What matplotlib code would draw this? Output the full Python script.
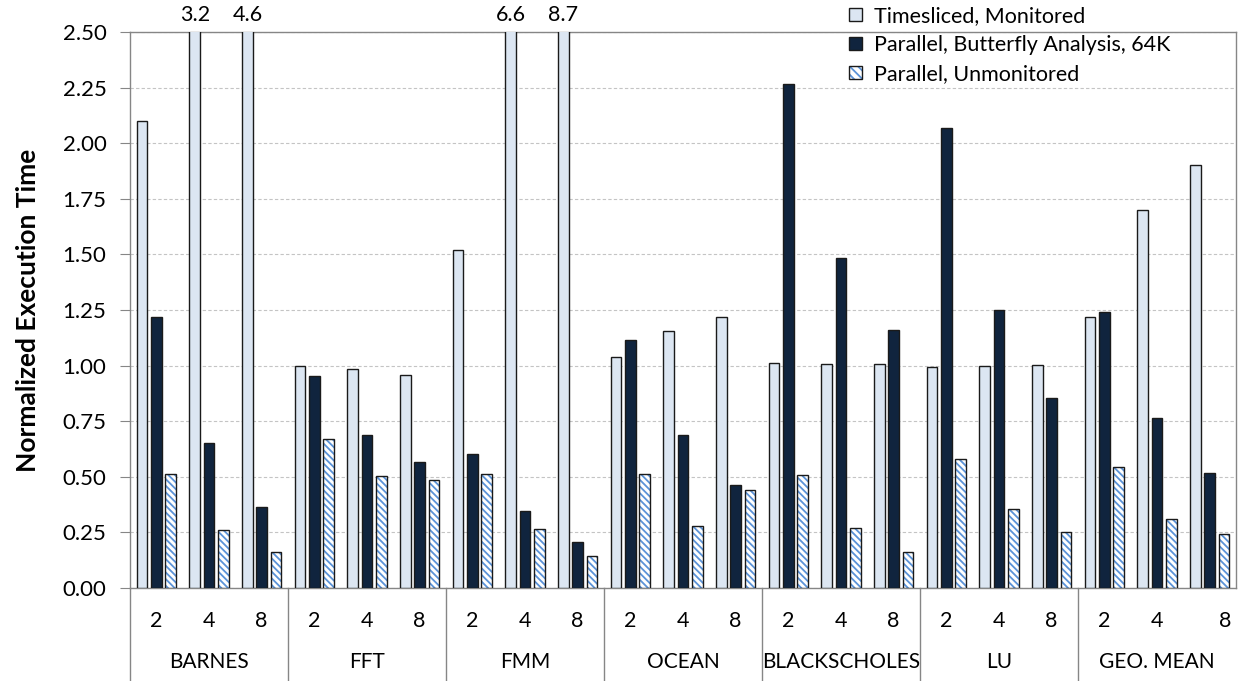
import matplotlib.pyplot as plt
import numpy as np
from matplotlib.patches import Patch
from matplotlib.legend_handler import HandlerTuple

plt.rcParams['font.family'] = ['Lato', 'DejaVu Sans']
plt.rcParams['hatch.linewidth'] = 1.3

# data (21 bars per series: 7 benchmarks x 2/4/8 threads)
benchmarks = ['BARNES', 'FFT', 'FMM', 'OCEAN', 'BLACKSCHOLES', 'LU', 'GEO. MEAN']
threads = ['2', '4', '8']

timesliced = [2.10, 3.2, 4.6, 1.00, 0.985, 0.958, 1.52, 6.6, 8.7,
              1.039, 1.156, 1.22, 1.013, 1.006, 1.006, 0.993, 0.996, 1.001,
              1.22, 1.70, 1.90]
butterfly = [1.22, 0.653, 0.363, 0.953, 0.689, 0.567, 0.603, 0.346, 0.209,
             1.115, 0.688, 0.463, 2.266, 1.485, 1.161, 2.068, 1.25, 0.856,
             1.24, 0.764, 0.518]
unmonitored = [0.514, 0.259, 0.162, 0.668, 0.505, 0.484, 0.512, 0.265, 0.144,
               0.511, 0.277, 0.44, 0.507, 0.268, 0.163, 0.58, 0.357, 0.252,
               0.545, 0.312, 0.243]

series_names = ['Timesliced, Monitored', 'Parallel, Butterfly Analysis, 64K',
                'Parallel, Unmonitored']

ymax = 2.5
c_light = '#DCE6F2'
c_dark = '#10243E'
c_hatch = '#5B93D8'
c_edge = '#1A1A1A'
c_axis = '#868686'
fs = 15.5

fig = plt.figure(figsize=(12.38, 6.81), dpi=100)
ax = fig.add_axes([130/1238, 93/681, 1106/1238, 556/681])

x = np.arange(len(timesliced))
off = 0.272
w = 0.205

ax.bar(x - off, timesliced, w, color=c_light, edgecolor=c_edge, lw=1.0, zorder=3)
ax.bar(x, butterfly, w, color=c_dark, edgecolor=c_edge, lw=1.0, zorder=3)
ax.bar(x + off, unmonitored, w, color='white', edgecolor=c_hatch, hatch='\\' * 5,
       lw=0, zorder=3)
ax.bar(x + off, unmonitored, w, color='none', edgecolor=c_edge, lw=1.0, zorder=4)

# values that run off the top of the axis
for i, v in enumerate(timesliced):
    if v > ymax:
        ax.annotate(f'{v:.1f}', (x[i] - off, ymax), xytext=(0, 12),
                    textcoords='offset points', ha='center', va='center',
                    fontsize=fs, annotation_clip=False)

ax.set_xlim(-0.5, len(x) - 0.5)
ax.set_ylim(0, ymax)
ax.set_yticks(np.arange(0, 2.51, 0.25))
ax.set_yticklabels([f'{t:.2f}' for t in np.arange(0, 2.51, 0.25)], fontsize=16)
ax.tick_params(axis='y', direction='out', length=7, color=c_axis, pad=10)
ax.set_xticks([])
ax.yaxis.grid(True, ls=(0, (3, 2)), color='#C4C4C4', lw=0.8, zorder=0)
for s in ax.spines.values():
    s.set_color(c_axis)
    s.set_linewidth(1.0)

ax.set_ylabel('Normalized Execution Time', fontsize=19, fontweight='bold',
              labelpad=16)

# two-level category axis
trans = ax.get_xaxis_transform()
for i in range(len(x)):
    dx = 11 if i == len(x) - 1 else 0
    ax.annotate(threads[i % 3], (x[i], 0), xycoords=trans, xytext=(dx, -24),
                textcoords='offset points', ha='center', va='center', fontsize=fs)
for g, name in enumerate(benchmarks):
    ax.annotate(name, (3 * g + 1, 0), xycoords=trans, xytext=(0, -53),
                textcoords='offset points', ha='center', va='center', fontsize=15)
for g in range(len(benchmarks)):
    ax.plot([3 * g - 0.5, 3 * g - 0.5], [0, -93/556], transform=trans,
            color=c_axis, lw=1.0, clip_on=False)

# legend above the top right of the plot
h_light = Patch(facecolor=c_light, edgecolor=c_edge, lw=1.0)
h_dark = Patch(facecolor=c_dark, edgecolor=c_edge, lw=1.0)
h_hatch = (Patch(facecolor='white', edgecolor=c_hatch, hatch='\\' * 4, lw=0),
           Patch(facecolor='none', edgecolor=c_edge, lw=1.0))
fig.legend([h_light, h_dark, h_hatch], series_names,
           handler_map={tuple: HandlerTuple(ndivide=1)},
           loc='upper left', bbox_to_anchor=(849/1238, 1 - 6/681),
           frameon=False, fontsize=fs, handlelength=0.6, handleheight=0.6,
           handletextpad=0.55, labelspacing=0.42, borderpad=0, borderaxespad=0)

fig.savefig('out.png', dpi=100)
